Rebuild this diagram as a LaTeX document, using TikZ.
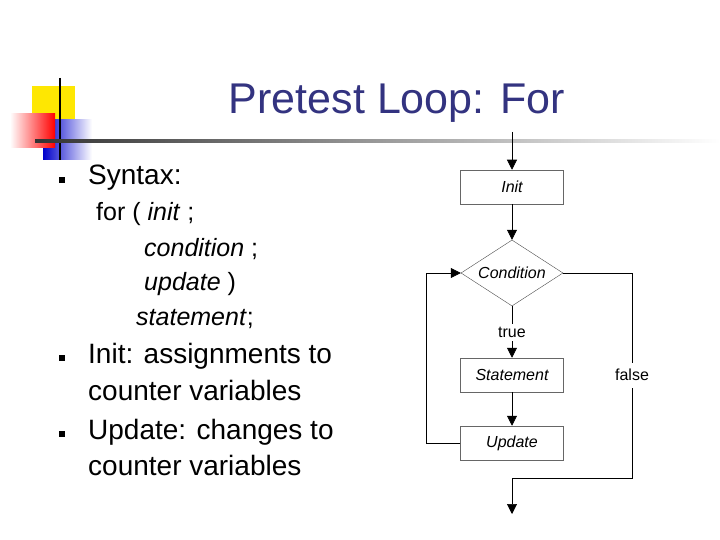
\documentclass[tikz,border=0pt]{standalone}
\usepackage{fontspec}
\setmainfont{Liberation Sans}
\usetikzlibrary{shapes.geometric,arrows.meta}
\definecolor{titleblue}{RGB}{51,51,128}
\begin{document}
\begin{tikzpicture}[x=1pt,y=-1pt,
  box/.style={draw=black!60,line width=0.5pt,minimum width=103pt,minimum height=34pt,inner sep=0pt,font=\fontsize{16}{18}\selectfont\itshape},
  dia/.style={draw=black!70,diamond,aspect=1.55,minimum width=102pt,minimum height=66pt,inner sep=0pt,font=\fontsize{16}{18}\selectfont\itshape},
  conn/.style={line width=0.6pt,-{Triangle[length=10pt,width=10pt]}},
  wire/.style={line width=0.6pt},
  body/.style={anchor=west,font=\fontsize{28}{32}\selectfont,inner sep=0pt},
  code/.style={anchor=west,font=\fontsize{25}{28}\selectfont,inner sep=0pt},
  bul/.style={fill=black,minimum size=6pt,inner sep=0pt}]
\useasboundingbox[fill=white] (0,0) rectangle (720,540);
% decoration
\fill[yellow!90!orange] (32,86) rectangle (75,128);
\shade[left color=blue!80!black,right color=white] (43,120) rectangle (92,160);
\shade[left color=white,right color=red] (10,114) rectangle (55,148);
\draw[line width=1.5pt] (60,78) -- (60,160);
\shade[left color=black!80,right color=white] (35,140) rectangle (720,143);
\node[font=\fontsize{43}{46}\selectfont,text=titleblue] (title) at (397,103) {Pretest Loop: For};
% left text
\node[bul] (b1) at (62,180) {};
\node[body] (t1) at (88,178) {Syntax:};
\node[code] (c1) at (96,214) {for ( \textit{init} ;};
\node[code] (c2) at (144,249) {\textit{condition} ;};
\node[code] (c3) at (144,284) {\textit{update} )};
\node[code] (c4) at (136,319) {\textit{statement};};
\node[bul] (b2) at (62,358) {};
\node[body] (t2) at (88,356) {Init: assignments to};
\node[body] (t3) at (88,390) {counter variables};
\node[bul] (b3) at (62,434) {};
\node[body] (t4) at (88,432) {Update: changes to};
\node[body] (t5) at (88,465) {counter variables};
% flowchart
\coordinate (start) at (512,132);
\node[box] (init) at (512,187) {Init};
\node[dia] (cond) at (512,273) {Condition};
\node[box] (stmt) at (512,375) {Statement};
\node[box] (upd) at (512,443) {Update};
\coordinate (end) at (512,514);
\coordinate (fa) at (632,363);
\coordinate (fb) at (632,388);
\draw[conn] (start) -- (init);
\draw[conn] (init) -- (cond);
\draw[wire] (cond.south) -- (512,324);
\node[font=\fontsize{16}{18}\selectfont] (tr) at (512,332) {true};
\draw[conn] (512,341) -- (stmt);
\draw[conn] (stmt) -- (upd);
\draw[conn] (upd.west) -- (426,443) -- (426,273) -- (cond.west);
\draw[wire] (cond.east) -- (632,273) -- (fa);
\draw[conn] (fb) -- (632,478) -- (512,478) -- (end);
\node[font=\fontsize{16}{18}\selectfont,inner sep=1pt] (fl) at (632,375) {false};
\end{tikzpicture}
\end{document}
